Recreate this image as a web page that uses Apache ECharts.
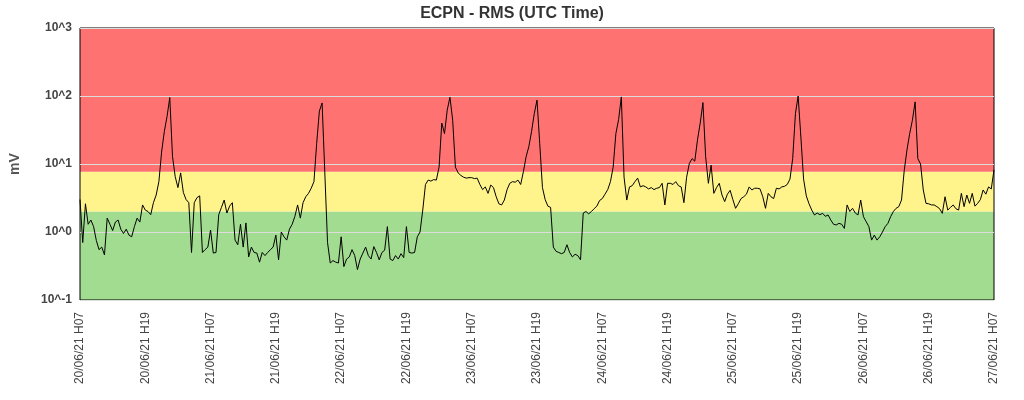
<!DOCTYPE html>
<html>
<head>
<meta charset="utf-8">
<script src="https://cdn.jsdelivr.net/npm/echarts@6/dist/echarts.min.js"></script>
<style>
  html, body { margin: 0; padding: 0; background: #fff; }
  #chart { width: 1024px; height: 400px; }
</style>
</head>
<body>
<div id="chart"></div>
<script>
// x tick labels, one every 12 hours
var xLabels = [
  '20/06/21 H07', '20/06/21 H19', '21/06/21 H07', '21/06/21 H19',
  '22/06/21 H07', '22/06/21 H19', '23/06/21 H07', '23/06/21 H19',
  '24/06/21 H07', '24/06/21 H19', '25/06/21 H07', '25/06/21 H19',
  '26/06/21 H07', '26/06/21 H19', '27/06/21 H07'
];

var stepHours = 0.5; // one sample every half hour, starting 20/06/21 H07

// RMS in mV
var rms = [
  3.0, 0.7, 2.6, 1.3, 1.5, 1.2, 0.75, 0.55, 0.6, 0.46, 1.6, 1.3, 1.05, 1.4, 1.5, 1.1, 0.95, 1.1, 0.9, 0.85, 1.2, 1.6, 1.4, 2.5,
  2.1, 2.0, 1.8, 2.7, 3.5, 5.5, 15, 30, 50, 95, 13, 6.5, 4.5, 7.4, 3.8, 3.0, 2.7, 0.5, 2.7, 3.2, 3.4, 0.5, 0.55, 0.6,
  1.07, 0.49, 0.5, 1.8, 2.3, 2.95, 1.9, 2.4, 2.7, 0.76, 0.65, 1.3, 0.6, 1.36, 0.43, 0.6, 0.5, 0.49, 0.36, 0.5, 0.45, 0.5, 0.55, 0.6,
  0.9, 0.39, 1.0, 0.85, 0.76, 1.1, 1.3, 1.7, 2.5, 1.6, 2.7, 3.3, 3.7, 4.4, 5.5, 20, 60, 79, 7.4, 0.7, 0.35, 0.38, 0.36, 0.35,
  0.85, 0.31, 0.4, 0.43, 0.55, 0.45, 0.28, 0.4, 0.49, 0.6, 0.45, 0.4, 0.61, 0.5, 0.39, 0.5, 0.54, 1.2, 0.4, 0.38, 0.45, 0.4, 0.48, 0.42,
  1.2, 0.5, 0.49, 0.5, 0.85, 1.0, 2.1, 5.0, 5.8, 5.6, 5.9, 5.8, 9, 40, 28, 62, 96, 44, 9, 7.4, 6.8, 6.4, 6.2, 6.3,
  6.3, 6.1, 6.2, 5.0, 4.2, 4.6, 3.7, 4.9, 4.5, 3.3, 2.6, 2.5, 2.95, 4.2, 5.2, 5.5, 5.4, 5.8, 5.0, 7.7, 12.8, 18, 30, 55,
  87, 20, 4.5, 3.0, 2.4, 2.3, 0.6, 0.52, 0.5, 0.48, 0.5, 0.65, 0.5, 0.43, 0.47, 0.45, 0.39, 1.9, 2.0, 1.85, 2.0, 2.2, 2.4, 2.9,
  3.1, 3.6, 4.2, 5.5, 9, 28, 45, 97, 6.4, 2.95, 4.6, 4.8, 5.5, 6.2, 4.6, 4.8, 4.6, 4.3, 4.5, 4.2, 4.4, 4.5, 5.2, 2.5,
  5.2, 5.2, 5.0, 5.5, 4.8, 4.6, 2.7, 6.4, 10.2, 12, 11, 22.6, 40, 80, 12.8, 5.2, 9.6, 3.7, 4.5, 5.2, 3.5, 2.8, 3.6, 4.1,
  3.0, 2.23, 2.6, 3.1, 3.3, 3.6, 4.6, 4.15, 4.4, 4.4, 4.3, 3.3, 2.23, 3.7, 3.3, 3.1, 4.4, 4.3, 4.6, 4.7, 5.0, 6.0, 12, 55,
  100, 25, 6, 3.4, 2.6, 2.1, 1.78, 1.9, 1.8, 1.88, 1.7, 1.78, 1.5, 1.3, 1.27, 1.34, 1.3, 1.13, 2.5, 2.0, 2.23, 1.9, 1.78, 2.95,
  1.68, 1.42, 1.2, 0.76, 0.9, 0.76, 0.85, 1.0, 1.2, 1.34, 1.68, 2.0, 2.23, 2.36, 2.95, 8, 16, 28, 44, 82, 12, 10, 4.15, 2.64,
  2.6, 2.5, 2.5, 2.36, 2.2, 1.88, 3.3, 2.1, 2.3, 2.5, 2.2, 2.1, 3.7, 2.36, 3.5, 2.64, 3.7, 2.4, 2.64, 3.0, 4.15, 3.6, 4.6, 4.3, 8.2
];

// alarm levels (mV): green / yellow / red
var bandLimits = [0.1, 2, 7.7, 1000];
var bandColors = ['#a2dc90', '#fff48c', '#ff7272'];

var chart = echarts.init(document.getElementById('chart'));

var lineData = rms.map(function (v, i) { return [i * stepHours, v]; });

var bands = [];
for (var i = 0; i < bandColors.length; i++) {
  bands.push([
    { yAxis: bandLimits[i], itemStyle: { color: bandColors[i], opacity: 1 } },
    { yAxis: bandLimits[i + 1] }
  ]);
}

var font = 'Liberation Sans, Arial, sans-serif';

var option = {
  animation: false,
  title: {
    text: 'ECPN - RMS (UTC Time)',
    left: 'center',
    top: 1,
    textStyle: { fontFamily: font, fontSize: 16, fontWeight: 'bold', color: '#333' }
  },
  grid: {
    left: 80,
    right: 30,
    top: 28,
    bottom: 100,
    show: true,
    z: 2,
    borderColor: '#000',
    borderWidth: 1,
    backgroundColor: 'transparent'
  },
  xAxis: {
    type: 'value',
    min: 0,
    max: (xLabels.length - 1) * 12,
    interval: 12,
    axisLine: { show: false },
    axisTick: { show: false },
    splitLine: { show: false },
    axisLabel: {
      rotate: 90,
      margin: 12,
      fontFamily: font,
      fontSize: 12,
      color: '#444',
      formatter: function (v) { return xLabels[Math.round(v / 12)]; }
    }
  },
  yAxis: {
    type: 'log',
    logBase: 10,
    min: 0.1,
    max: 1000,
    z: 2,
    name: 'mV',
    nameLocation: 'middle',
    nameGap: 58,
    nameRotate: 90,
    nameTextStyle: { fontFamily: font, fontSize: 14, fontWeight: 'bold', color: '#555' },
    axisLine: { show: false },
    axisTick: { show: false },
    splitLine: { show: true, lineStyle: { color: '#dcdcdc', width: 1 } },
    axisLabel: {
      margin: 8,
      fontFamily: font,
      fontSize: 12,
      fontWeight: 'bold',
      color: '#444',
      formatter: function (v) { return '10^' + Math.round(Math.log10(v)); }
    }
  },
  series: [
    {
      type: 'line',
      data: [],
      silent: true,
      markArea: { silent: true, z: 1, data: bands }
    },
    {
      type: 'line',
      z: 3,
      data: lineData,
      showSymbol: false,
      lineStyle: { color: '#000', width: 1 }
    }
  ]
};

chart.setOption(option);
</script>
</body>
</html>
